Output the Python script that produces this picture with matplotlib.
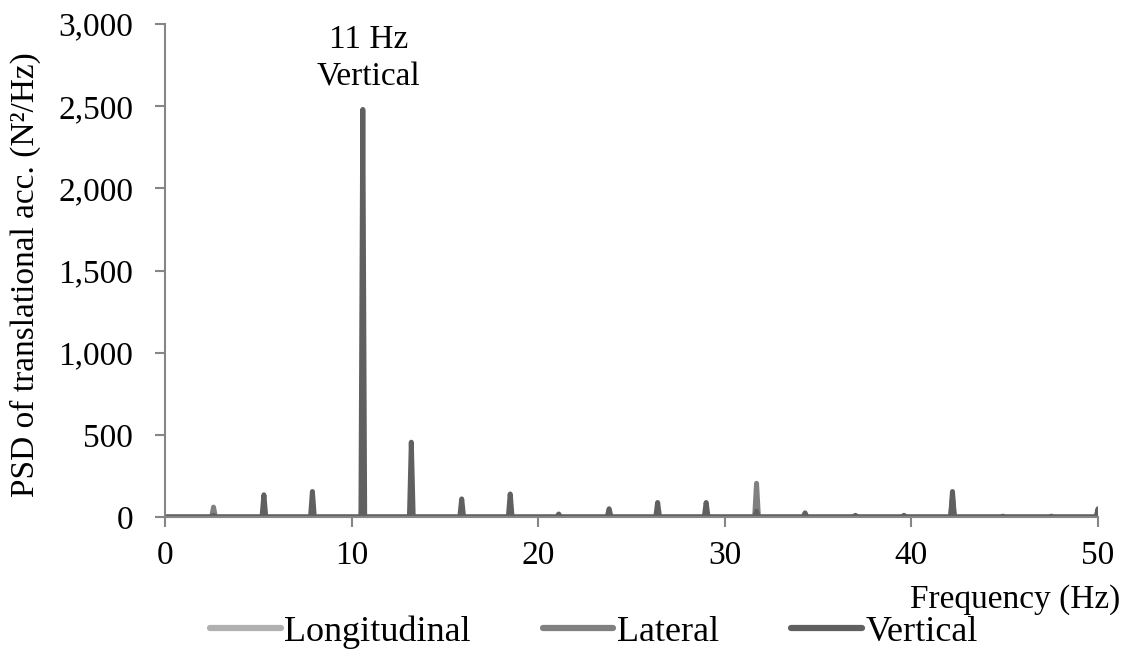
import numpy as np
import matplotlib
matplotlib.use('Agg')
import matplotlib.pyplot as plt
from matplotlib.ticker import FuncFormatter

# peak frequencies (Hz) and PSD peak heights (N^2/Hz)
peak_freqs = [2.6, 5.3, 7.9, 10.6, 13.2, 15.9, 18.5, 21.1, 23.8, 26.4,
              29.0, 31.7, 34.3, 37.0, 39.6, 42.2, 44.9, 47.5, 50.0]
longitudinal = [15, 10, 10, 50, 20, 10, 10, 5, 5, 10, 10, 60, 5, 5, 5, 60, 3, 3, 10]
lateral = [60, 20, 20, 130, 40, 20, 20, 5, 10, 20, 20, 205, 10, 5, 5, 120, 3, 3, 20]
vertical = [10, 135, 155, 2480, 455, 110, 140, 18, 50, 88, 88, 35, 25, 10, 10, 155, 5, 5, 50]

series_names = ['Longitudinal', 'Lateral', 'Vertical']
colors = ['#b0b0b0', '#808080', '#606060']


def spectrum(freqs, amps, half_width=0.1):
    # narrow spikes rising from a ~0 baseline
    x, y = [0.0], [0.0]
    for f, a in zip(freqs, amps):
        x += [f - half_width, f, f + half_width]
        y += [0.0, a, 0.0]
    x.append(50.5)
    y.append(0.0)
    return np.array(x), np.array(y)


plt.rcParams['font.family'] = ['Liberation Serif', 'DejaVu Serif']
fs = 24

fig = plt.figure(figsize=(11.27, 6.6), dpi=100)
ax = fig.add_axes([0.1464, 0.2167, 0.8279, 0.7469])

for name, amps, c in zip(series_names, [longitudinal, lateral, vertical], colors):
    x, y = spectrum(peak_freqs, amps)
    ax.plot(x, y, color=c, lw=3.6, solid_joinstyle='round', solid_capstyle='round',
            label=name)

ax.set_xlim(0, 50)
ax.set_ylim(0, 3000)
ax.set_xticks([0, 10, 20, 30, 40, 50])
ax.set_yticks(np.arange(0, 3001, 500))
ax.yaxis.set_major_formatter(FuncFormatter(lambda v, p: f'{int(v):,}'))

for s in ['top', 'right']:
    ax.spines[s].set_visible(False)
for s in ['left', 'bottom']:
    ax.spines[s].set_color('#868686')
    ax.spines[s].set_linewidth(1.5)
ax.tick_params(axis='both', direction='out', length=7, width=1.5, color='#868686',
               labelsize=fs)
ax.tick_params(axis='x', pad=10)
ax.tick_params(axis='y', pad=16)

fig.text(25 / 1127, 1 - 275 / 660, 'PSD of translational acc. (N²/Hz)',
         fontsize=fs, rotation=90, ha='center', va='center')
fig.text(1120 / 1127, 1 - 600 / 660, 'Frequency (Hz)', fontsize=fs,
         ha='right', va='center')

ax.text(10.9, 3000, '11 Hz\nVertical', fontsize=fs, ha='center', va='top',
        linespacing=1.3)

leg = fig.legend(loc='center', bbox_to_anchor=(0.527, 1 - 632 / 660), ncol=3,
                 frameon=False, fontsize=26, handlelength=1.95, handletextpad=0.1,
                 columnspacing=2.0, borderpad=0)
for h in leg.get_lines():
    h.set_linewidth(4.5)

fig.savefig('out.png', dpi=100)
